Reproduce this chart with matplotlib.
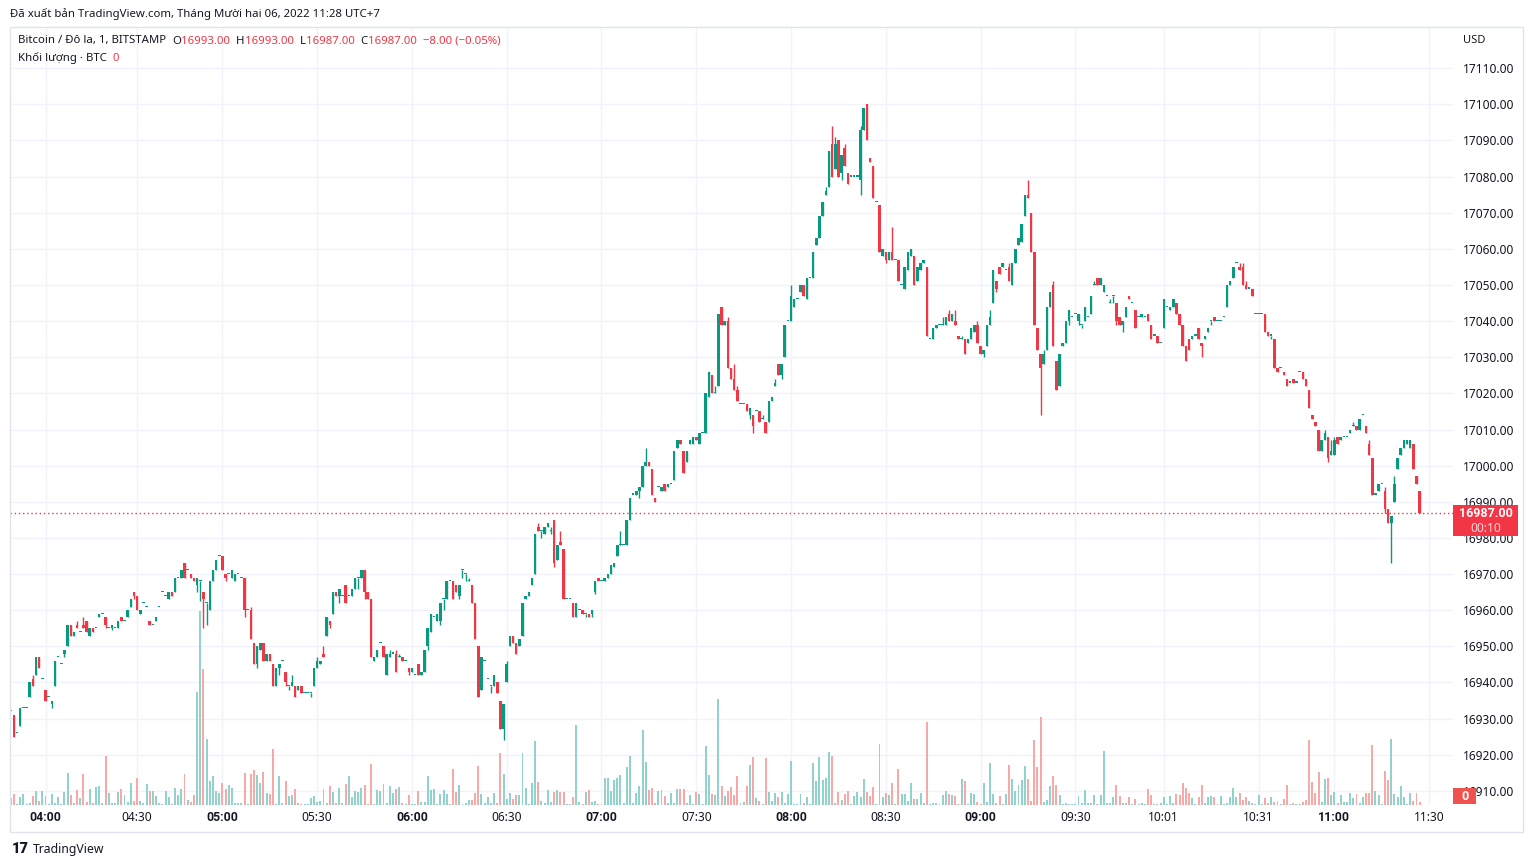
import matplotlib
matplotlib.use('Agg')
import matplotlib.pyplot as plt
from matplotlib.patches import Rectangle
from matplotlib.offsetbox import TextArea, HPacker, AnnotationBbox
import numpy as np

plt.rcParams['font.family'] = ['Noto Sans', 'DejaVu Sans']
BOLD_FAMILY = ['Roboto', 'DejaVu Sans']

# ---------------- data (BTC/USD, 1-minute, BITSTAMP) ----------------
opens = [
16932,16931,16926,16928,16933,16933,16936,16941,16942,16947,
16941,16938,16936,16934,16939,16947,16945,16948,16950,16956,
16953,16956,16954,16956,16957,16953,16955,16955,16958,16959,
16958,16955,16955,16955,16955,16958,16957,16958,16961,16965,
16964,16959,16962,16961,16957,16956,16957,16961,16965,16964,
16963,16965,16965,16969,16969,16973,16971,16970,16969,16967,
16968,16965,16962,16960,16968,16971,16975,16975,16970,16970,
16969,16968,16970,16969,16969,16960,16960,16951,16945,16949,
16951,16946,16948,16945,16939,16944,16946,16943,16939,16939,
16939,16938,16939,16937,16937,16937,16939,16944,16945,16948,
16953,16957,16959,16965,16964,16964,16967,16964,16964,16966,
16969,16969,16971,16965,16963,16946,16947,16951,16950,16942,
16947,16948,16948,16947,16947,16946,16944,16943,16942,16945,
16942,16943,16950,16954,16958,16957,16957,16963,16963,16968,
16968,16967,16964,16971,16970,16968,16967,16962,16950,16938,
16946,16941,16939,16939,16940,16935,16927,16940,16950,16953,
16951,16950,16953,16963,16964,16967,16970,16983,16982,16981,
16983,16982,16985,16974,16979,16977,16963,16963,16962,16958,
16960,16960,16959,16959,16959,16965,16969,16968,16968,16969,
16970,16972,16975,16978,16978,16978,16985,16992,16992,16993,
16994,17000,17001,16999,16991,16994,16993,16995,16994,16995,
16996,17005,17007,17004,17001,17006,17006,17008,17006,17009,
17009,17019,17025,17020,17022,17044,17039,17040,17027,17024,
17021,17017,17017,17017,17014,17014,17015,17015,17013,17012,
17012,17018,17022,17028,17025,17030,17040,17040,17044,17046,
17048,17050,17046,17052,17052,17061,17063,17069,17075,17077,
17089,17082,17090,17081,17088,17081,17080,17080,17080,17079,
17093,17100,17085,17083,17073,17072,17058,17059,17057,17059,
17057,17057,17050,17049,17054,17058,17058,17051,17054,17056,
17055,17035,17035,17038,17039,17039,17039,17042,17040,17040,
17036,17035,17035,17034,17035,17037,17039,17033,17031,17033,
17039,17045,17051,17055,17055,17054,17055,17050,17056,17061,
17062,17069,17075,17070,17059,17038,17031,17028,17032,17044,
17050,17029,17022,17033,17034,17040,17041,17042,17040,17039,
17040,17041,17042,17050,17052,17050,17048,17047,17045,17047,
17045,17041,17039,17041,17047,17045,17043,17041,17041,17041,
17042,17039,17036,17036,17034,17038,17044,17043,17044,17045,
17042,17039,17033,17035,17035,17036,17038,17034,17035,17037,
17040,17041,17040,17040,17041,17044,17050,17052,17056,17055,
17055,17050,17049,17049,17042,17042,17042,17042,17037,17036,
17035,17027,17027,17026,17024,17023,17024,17023,17026,17026,
17024,17021,17014,17012,17010,17004,17007,17008,17003,17003,
17008,17007,17008,17008,17009,17011,17011,17010,17014,17011,
17006,17002,16992,16993,16995,16993,16988,16984,16990,16999,
17003,17005,17006,17005,17006,16997,16993]

closes = [
16932,16925,16926,16933,16933,16933,16940,16939,16947,16944,
16941,16935,16936,16935,16946,16947,16945,16949,16956,16953,
16954,16955,16954,16955,16954,16955,16954,16955,16959,16959,
16956,16955,16956,16955,16957,16957,16957,16960,16963,16964,
16960,16960,16962,16961,16956,16956,16958,16961,16965,16964,
16965,16964,16969,16969,16971,16969,16971,16969,16968,16969,
16968,16963,16962,16968,16971,16974,16975,16971,16969,16970,
16971,16970,16970,16969,16960,16960,16952,16945,16950,16951,
16946,16948,16946,16939,16944,16945,16946,16940,16939,16940,
16936,16939,16937,16937,16937,16937,16944,16946,16946,16947,
16958,16956,16965,16964,16966,16964,16962,16964,16966,16969,
16969,16971,16965,16963,16947,16947,16949,16951,16947,16948,
16948,16948,16943,16947,16946,16946,16943,16944,16942,16942,
16943,16949,16955,16959,16958,16959,16962,16963,16968,16968,
16963,16965,16967,16971,16970,16968,16962,16952,16936,16947,
16946,16941,16939,16942,16937,16927,16934,16945,16953,16951,
16948,16952,16962,16964,16965,16969,16981,16982,16982,16983,
16984,16982,16973,16978,16978,16963,16963,16963,16958,16962,
16960,16959,16959,16958,16960,16968,16968,16968,16969,16970,
16972.5,16973,16978,16978,16978,16985,16991,16992,16993,16994,
17000,17001,17000,16992,16990,16994,16994,16993,16995,16995,
17004,17007,17006,16998,17004,17007,17008,17007,17009,17009,
17020,17026,17020,17020,17042,17039,17040,17027,17024,17021,
17018,17017,17017,17015,17016,17011,17015,17012,17013,17009,
17018,17019,17023,17025,17028,17039,17040,17047,17046,17046,
17050,17047,17052,17052,17059,17063,17069,17073,17076,17087,
17080,17089,17080,17086,17083,17078,17080,17080,17080,17093,
17099,17090,17084,17074,17073,17059,17060,17057,17059,17057,
17057,17051,17050,17055,17059,17060,17050,17055,17056,17057,
17036,17035,17038,17039,17039,17039,17041,17040,17042,17039,
17035,17035,17031,17035,17038,17039,17034,17031,17032,17039,
17041,17054,17049,17053,17056,17054,17051,17056,17060,17063,
17067,17075,17074,17059,17039,17032,17027,17031,17044,17048,
17033,17021,17031,17034,17040,17043,17041,17042,17042,17039,
17044,17041,17047,17050,17050,17052,17050,17047,17045,17047,
17040,17039,17040,17044,17046,17045,17038,17041,17042,17041,
17040,17035,17036,17034,17034,17046,17044,17044,17046,17042,
17039,17033,17029,17032,17036,17036,17035,17033,17036,17038,
17040,17040,17040,17040,17041,17050,17051,17055,17056,17054,
17050,17049,17049,17047,17042,17042,17042,17037,17036,17036,
17027,17026,17027,17025,17022,17023,17023,17023,17026,17024,
17022,17016,17013,17011,17004,17007,17009,17002,17004,17007,
17006,17008,17008,17008,17010,17011,17010,17013,17014,17009,
17003,16992,16992,16995,16995,16988,16984,16986,16995,17002,
17005,17007,17007,17007,16999,16995,16987]

# wick extremes beyond the candle body (bar index -> price)
wick_highs = {7:16942, 21:16957, 23:16958, 76:16961, 89:16942, 97:16947, 99:16950,
    120:16949, 122:16949, 123:16948, 145:16969, 157:16946, 167:16984, 171:16983,
    174:16982, 193:16982, 201:17005, 223:17022, 227:17041, 229:17028, 230:17022,
    238:17014, 242:17024, 247:17050, 258:17077, 260:17094, 261:17091, 264:17089,
    269:17094, 279:17066, 295:17041, 297:17043, 299:17043, 301:17036, 306:17040,
    310:17043, 316:17056, 322:17079, 327:17032, 330:17051, 343:17051, 348:17046,
    389:17056, 390:17056, 391:17051, 416:17010, 418:17007, 419:17008, 425:17012,
    430:17007, 435:16994, 438:16997}
wick_lows = {13:16933, 17:16947, 30:16955, 32:16954.5, 39:16963, 59:16965, 60:16962.5,
    61:16955, 62:16956, 68:16968, 74:16958, 78:16944, 85:16942, 87:16939, 88:16938,
    95:16936, 101:16955, 104:16962, 110:16966, 112:16963, 126:16942, 132:16949,
    136:16956, 137:16960, 142:16963, 143:16969, 144:16968, 152:16937, 156:16924,
    168:16980, 171:16981, 172:16972, 182:16958, 184:16958, 185:16964.5, 199:16991,
    234:17013, 235:17009, 244:17024, 263:17079, 269:17075, 277:17056, 308:17030,
    312:17048, 326:17014, 335:17039, 338:17039, 339:17038, 349:17045, 350:17039,
    352:17037, 377:17030, 380:17039, 399:17035, 417:17001, 435:16987, 437:16973}

volumes = [
7.3,11.3,1.3,8.3,11.3,1.3,2.3,9.3,14,4,
14,9.3,1.3,11.3,2.3,8.3,1.3,13,32,10.3,
2.3,15.3,7.3,31,3.3,16.3,2.3,18,19,2.3,
49.3,12,2.3,2.3,13,16,10,3,22.3,4,
27.3,4,2.3,21.3,14,14,9,1.7,1,14,
8.3,0.7,17.3,10,16.3,31,5,3,10,113,
194,136,66,24,29,14,12,22,16,20,
17,2,2,2,32,1,31,35,30,22,
33,12,11,56,1,29,2,24,9,10,
16,2,1.3,1,1,7,9,3,4,16,
2,19,13,2,17,2,21,29,8,14,
13,17,20,1,41,
1,15,14,21,2,19,12,16,18,2,
1,10,1,1,14,3,3,29,15,16,
1,11,15,11,1,36,13,20,1,2,
5,5,12,39,11,2,8,2,12,2,
52,31,6,12,6,10,10,52,17,1,
22,64,23,4,2,15,3,13,15,13,
13,1,1,8,80,3,1,13,15,3,
4,1,1,27,27,14,25,27,30,2,
38,49,2,12,19,75,43,15,17,2,
14,15,9,2,12,2,16,16,16,2,
10,1,13,11,1,59,30,11,10,106,
19,9,14,18,10,29,2,3,19,40,
48,7,4,1,47,13,4,12,8,13,
2,11,44,1,1,11,2,8,1,42,
24,48,25,27,53,49,2,13,5,11,
14,1,9,13,8,26,13,9,18,1,
61,8,12,10,22,1,36,11,11,4,
22,6,6,12,2,83,1,2,2,1,
10,14,11,10,9,1,26,24,1,12,
11,3,1,22,3,42,11,2,9,1,
11,40,26,14,20,25,39,26,4,65,
38,88,3,5,19,29,20,10,1,2,
1,1,1,9,2,15,2,
2,10,1,10,54,2,2,8,20,9,
2,2,8,1,6,1,2,1,16,10,
1,1,2,8,1,9,2,11,10,22,
17,12,7,1,8,20,2,8,9,8,
1,9,1,2,8,17,8,12,5,8,
4,2,1,10,1,7,2,8,3,4,
1,6,20,1,2,1,1,3,5,65,
23,12,33,3,26,27,10,13,2,10,
3,3,12,7,11,2,8,12,12,60,
14,10,1,34,25,66,11,8,19,8,
1,12,4,12,3]

tick_index = [11, 40, 67, 97, 127, 157, 187, 217, 247, 277, 307, 337, 365, 395, 419, 449]
tick_labels = ['04:00', '04:30', '05:00', '05:30', '06:00', '06:30', '07:00', '07:30',
               '08:00', '08:30', '09:00', '09:30', '10:01', '10:31', '11:00', '11:30']
bold_labels = {'04:00', '05:00', '06:00', '07:00', '08:00', '09:00', '11:00'}
price_ticks = list(range(16910, 17111, 10))
last_price = 16987.00

# ---------------- styling ----------------
UP, DOWN = '#089981', '#f23645'
VUP, VDOWN = '#92d2cc', '#f7a9a7'
TXT = '#131722'
GRID = '#f0f3fa'

W, H = 1533, 867
fig = plt.figure(figsize=(W / 100, H / 100), dpi=100)
fig.patch.set_facecolor('white')

def fx(px):
    return px / W

def fy(py):
    return 1 - py / H

L, R, T, B = 10, 1453, 28, 805
rect = [fx(L), fy(B), fx(R) - fx(L), fy(T) - fy(B)]
ax = fig.add_axes(rect)
axv = fig.add_axes(rect, sharex=ax)
axc = fig.add_axes(rect, sharex=ax, sharey=ax)

n = len(opens)
x = np.arange(n)
o = np.array(opens, dtype=float)
c = np.array(closes, dtype=float)
hi = np.maximum(o, c)
lo = np.minimum(o, c)
for k, v in wick_highs.items():
    hi[k] = max(hi[k], v)
for k, v in wick_lows.items():
    lo[k] = min(lo[k], v)
up = c >= o
cols = np.where(up, UP, DOWN)
vcols = np.where(up, VUP, VDOWN)

# base axes: grid + labels
ax.set_facecolor('white')
ax.set_xlim(-0.24, 456.55)
ax.set_ylim(16906.1, 17121.1)
ax.set_yticks(price_ticks)
ax.set_yticklabels(['%.2f' % p for p in price_ticks])
ax.yaxis.tick_right()
ax.set_xticks(tick_index)
ax.set_xticklabels(tick_labels)
ax.grid(True, color=GRID, linewidth=1)
ax.tick_params(axis='both', length=0, labelsize=8.6, labelcolor=TXT)
ax.tick_params(axis='y', pad=7.2)
ax.tick_params(axis='x', pad=4.0)
for lab in ax.get_xticklabels():
    if lab.get_text() in bold_labels:
        lab.set_fontfamily(BOLD_FAMILY)
        lab.set_fontweight('bold')
        lab.set_fontsize(8.8)
for s in ax.spines.values():
    s.set_visible(False)

# volume overlay
axv.set_facecolor('none')
axv.bar(x, volumes, width=0.62, color=vcols, linewidth=0)
axv.set_ylim(0, 777)
axv.axis('off')

# candles overlay
axc.set_facecolor('none')
axc.vlines(x, lo, hi, colors=cols, linewidth=1.0)
body_h = np.maximum(np.abs(c - o), 0.3)
axc.bar(x, body_h, bottom=np.minimum(o, c), width=0.8, color=cols, linewidth=0)
axc.axhline(last_price, color=DOWN, linewidth=1, linestyle=(0, (1, 2)))
axc.axis('off')
axc.set_xlim(-0.24, 456.55)
axc.set_ylim(16906.1, 17121.1)

# frame
fig.add_artist(Rectangle((fx(9.5), fy(832)), fx(1523) - fx(9.5), fy(27) - fy(832),
                         transform=fig.transFigure, facecolor='none',
                         edgecolor='#e0e3eb', linewidth=1))

# price label box
fig.add_artist(Rectangle((fx(1453), fy(536)), fx(1518) - fx(1453), fy(505) - fy(536),
                         transform=fig.transFigure, facecolor=DOWN, edgecolor='none', zorder=5))
fig.text(fx(1485.5), fy(513.5), '%.2f' % last_price, color='white', fontsize=9.0,
         fontweight='bold', family=BOLD_FAMILY, ha='center', va='center', zorder=6)
fig.text(fx(1485.5), fy(528), '00:10', color='#ffffffd0', fontsize=8.6,
         ha='center', va='center', zorder=6)

# volume label box
fig.add_artist(Rectangle((fx(1453), fy(804)), fx(1476) - fx(1453), fy(788) - fy(804),
                         transform=fig.transFigure, facecolor='#ef5350', edgecolor='none', zorder=5))
fig.text(fx(1464.5), fy(796.5), '0', color='white', fontsize=9.0, fontweight='bold',
         family=BOLD_FAMILY, ha='center', va='center', zorder=6)

fig.text(fx(1463), fy(40.5), 'USD', color=TXT, fontsize=8.0, ha='left', va='center')

# header lines
def packed(parts, px, py, size=8.2):
    boxes = [TextArea(t, textprops=dict(color=col, fontsize=size)) for t, col in parts]
    pk = HPacker(children=boxes, align='baseline', pad=0, sep=0)
    ab = AnnotationBbox(pk, (fx(px), fy(py)), xycoords='figure fraction',
                        box_alignment=(0, 0.5), frameon=False, pad=0)
    fig.add_artist(ab)

packed([('Bitcoin / Đô la, 1, BITSTAMP  ', TXT), ('O', TXT), ('16993.00  ', DOWN),
        ('H', TXT), ('16993.00  ', DOWN), ('L', TXT), ('16987.00  ', DOWN),
        ('C', TXT), ('16987.00  ', DOWN), ('−8.00 (−0.05%)', DOWN)], 18, 41)
packed([('Khối lượng · BTC  ', TXT), ('0', DOWN)], 18, 58)

fig.text(fx(10), fy(14), 'Đã xuất bản TradingView.com, Tháng Mười hai 06, 2022 11:28 UTC+7',
         color=TXT, fontsize=8.2, ha='left', va='center')

# footer logo
fig.text(fx(12), fy(849), '17', color=TXT, fontsize=10.5, fontweight='heavy',
         family=BOLD_FAMILY, ha='left', va='center')
fig.text(fx(33), fy(849), 'TradingView', color=TXT, fontsize=8.8, ha='left', va='center')

fig.savefig('out.png', dpi=100, facecolor='white')
